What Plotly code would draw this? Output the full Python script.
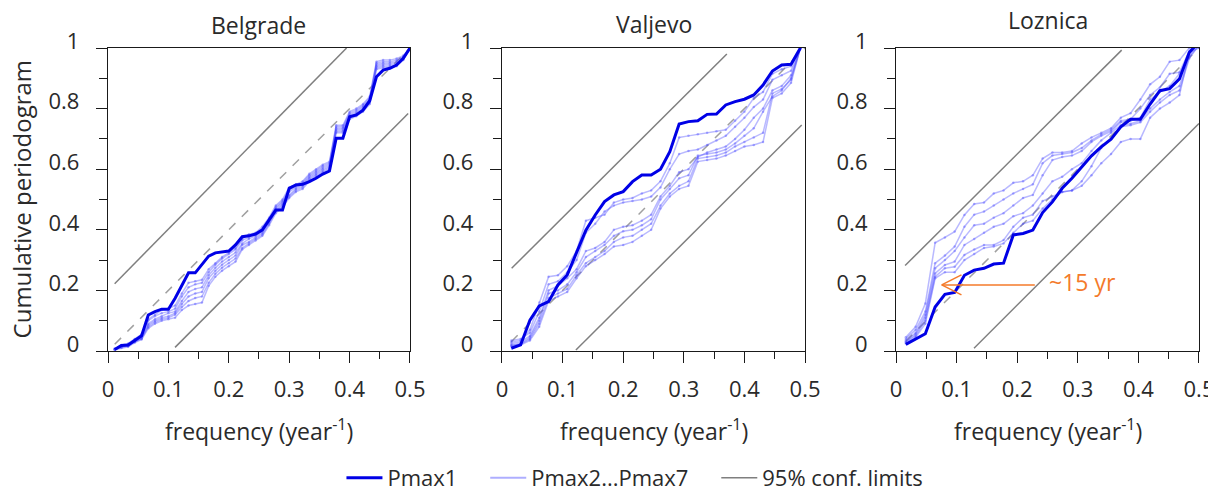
import plotly.graph_objects as go

# ---------------- data ----------------
stations = ["Belgrade", "Valjevo", "Loznica"]

belgrade_freq = [k / 90 for k in range(1, 46)]
valjevo_freq = [k / 65 for k in range(1, 33)]
loznica_freq = [k / 62 for k in range(1, 32)]

belgrade_pmax1 = [0.005, 0.018, 0.02, 0.036, 0.05, 0.119, 0.13, 0.138, 0.138, 0.174, 0.218, 0.258, 0.258, 0.284, 0.313,
                  0.324, 0.327, 0.33, 0.35, 0.377, 0.38, 0.386, 0.4, 0.432, 0.465, 0.465, 0.537, 0.548, 0.55, 0.559,
                  0.57, 0.584, 0.594, 0.702, 0.702, 0.773, 0.779, 0.795, 0.826, 0.905, 0.927, 0.933, 0.944, 0.966, 1.0]
belgrade_others = [
    [0.008, 0.02, 0.025, 0.04, 0.055, 0.105, 0.12, 0.135, 0.14, 0.15, 0.19, 0.225, 0.23, 0.235, 0.27, 0.29, 0.31, 0.325,
     0.34, 0.37, 0.385, 0.39, 0.41, 0.44, 0.48, 0.5, 0.54, 0.55, 0.56, 0.585, 0.6, 0.615, 0.625, 0.745, 0.745, 0.79, 0.8,
     0.815, 0.84, 0.955, 0.96, 0.96, 0.965, 0.975, 1.0],
    [0.007, 0.018, 0.022, 0.038, 0.05, 0.1, 0.115, 0.125, 0.13, 0.14, 0.18, 0.21, 0.22, 0.225, 0.26, 0.285, 0.305, 0.32,
     0.335, 0.365, 0.375, 0.385, 0.4, 0.435, 0.475, 0.495, 0.53, 0.545, 0.555, 0.58, 0.595, 0.61, 0.62, 0.74, 0.74, 0.785,
     0.795, 0.81, 0.835, 0.95, 0.955, 0.955, 0.96, 0.97, 1.0],
    [0.006, 0.016, 0.02, 0.035, 0.045, 0.09, 0.105, 0.115, 0.125, 0.13, 0.165, 0.195, 0.205, 0.21, 0.25, 0.275, 0.295,
     0.31, 0.325, 0.355, 0.37, 0.38, 0.395, 0.43, 0.47, 0.49, 0.525, 0.54, 0.55, 0.575, 0.59, 0.605, 0.615, 0.735, 0.735,
     0.78, 0.79, 0.805, 0.83, 0.945, 0.95, 0.95, 0.955, 0.97, 1.0],
    [0.005, 0.014, 0.018, 0.032, 0.042, 0.085, 0.1, 0.11, 0.115, 0.125, 0.155, 0.18, 0.19, 0.195, 0.24, 0.265, 0.285, 0.3,
     0.315, 0.35, 0.36, 0.375, 0.39, 0.425, 0.465, 0.485, 0.515, 0.535, 0.545, 0.57, 0.585, 0.6, 0.61, 0.73, 0.73, 0.775,
     0.785, 0.8, 0.825, 0.94, 0.945, 0.945, 0.95, 0.965, 1.0],
    [0.004, 0.012, 0.016, 0.03, 0.04, 0.08, 0.095, 0.105, 0.11, 0.12, 0.145, 0.165, 0.175, 0.18, 0.225, 0.255, 0.275,
     0.29, 0.305, 0.34, 0.355, 0.37, 0.385, 0.42, 0.46, 0.48, 0.51, 0.53, 0.54, 0.565, 0.58, 0.595, 0.605, 0.725, 0.725,
     0.77, 0.78, 0.795, 0.82, 0.935, 0.94, 0.94, 0.945, 0.962, 1.0],
    [0.004, 0.01, 0.014, 0.028, 0.038, 0.075, 0.09, 0.1, 0.105, 0.11, 0.135, 0.15, 0.155, 0.16, 0.215, 0.245, 0.265, 0.28,
     0.295, 0.335, 0.35, 0.365, 0.38, 0.415, 0.455, 0.475, 0.505, 0.525, 0.535, 0.56, 0.575, 0.59, 0.6, 0.72, 0.72,
     0.765, 0.775, 0.79, 0.815, 0.93, 0.935, 0.935, 0.94, 0.96, 1.0],
]

valjevo_pmax1 = [0.009, 0.02, 0.102, 0.149, 0.163, 0.218, 0.251, 0.322, 0.399, 0.449, 0.493, 0.515, 0.526, 0.559, 0.581,
                 0.581, 0.6, 0.658, 0.749, 0.757, 0.76, 0.781, 0.782, 0.812, 0.823, 0.831, 0.845, 0.878, 0.924, 0.944,
                 0.946, 1.0]
valjevo_others = [
    [0.03, 0.035, 0.07, 0.16, 0.245, 0.25, 0.28, 0.33, 0.43, 0.44, 0.45, 0.49, 0.5, 0.505, 0.52, 0.53, 0.56, 0.62, 0.705,
     0.71, 0.715, 0.72, 0.725, 0.73, 0.76, 0.79, 0.835, 0.855, 0.915, 0.93, 0.94, 1.0],
    [0.035, 0.04, 0.06, 0.13, 0.22, 0.23, 0.26, 0.3, 0.39, 0.42, 0.46, 0.48, 0.49, 0.495, 0.5, 0.51, 0.54, 0.6, 0.65,
     0.66, 0.665, 0.68, 0.695, 0.71, 0.74, 0.77, 0.805, 0.83, 0.895, 0.91, 0.925, 1.0],
    [0.025, 0.03, 0.05, 0.11, 0.2, 0.215, 0.24, 0.27, 0.33, 0.34, 0.36, 0.4, 0.41, 0.415, 0.43, 0.45, 0.51, 0.545, 0.59,
     0.6, 0.64, 0.655, 0.665, 0.675, 0.7, 0.73, 0.77, 0.8, 0.86, 0.875, 0.91, 1.0],
    [0.02, 0.025, 0.045, 0.1, 0.19, 0.2, 0.22, 0.26, 0.31, 0.33, 0.35, 0.38, 0.395, 0.4, 0.415, 0.435, 0.5, 0.535, 0.57,
     0.58, 0.645, 0.65, 0.655, 0.665, 0.685, 0.71, 0.735, 0.79, 0.84, 0.86, 0.9, 1.0],
    [0.018, 0.022, 0.04, 0.09, 0.175, 0.19, 0.205, 0.25, 0.29, 0.31, 0.33, 0.36, 0.375, 0.38, 0.4, 0.42, 0.48, 0.52,
     0.545, 0.56, 0.635, 0.64, 0.645, 0.655, 0.675, 0.69, 0.705, 0.72, 0.85, 0.865, 0.895, 1.0],
    [0.015, 0.02, 0.035, 0.08, 0.165, 0.18, 0.195, 0.24, 0.28, 0.3, 0.32, 0.345, 0.35, 0.36, 0.38, 0.4, 0.47, 0.51,
     0.535, 0.545, 0.625, 0.63, 0.635, 0.645, 0.66, 0.675, 0.68, 0.69, 0.835, 0.85, 0.885, 1.0],
]

loznica_pmax1 = [0.022, 0.04, 0.057, 0.145, 0.187, 0.193, 0.25, 0.267, 0.273, 0.287, 0.29, 0.383, 0.388, 0.399, 0.457,
                 0.492, 0.537, 0.57, 0.608, 0.644, 0.674, 0.699, 0.74, 0.765, 0.765, 0.815, 0.859, 0.866, 0.898, 0.985,
                 1.02]
loznica_others = [
    [0.045, 0.08, 0.157, 0.357, 0.375, 0.394, 0.449, 0.485, 0.49, 0.52, 0.53, 0.555, 0.56, 0.58, 0.635, 0.655, 0.655,
     0.66, 0.685, 0.705, 0.72, 0.735, 0.77, 0.785, 0.83, 0.88, 0.905, 0.955, 0.96, 1.0, 1.04],
    [0.04, 0.07, 0.13, 0.29, 0.315, 0.345, 0.41, 0.45, 0.46, 0.48, 0.5, 0.52, 0.535, 0.55, 0.62, 0.645, 0.65, 0.655,
     0.67, 0.695, 0.715, 0.73, 0.76, 0.765, 0.8, 0.845, 0.87, 0.915, 0.92, 0.99, 1.03],
    [0.035, 0.06, 0.12, 0.273, 0.3, 0.33, 0.375, 0.415, 0.42, 0.44, 0.455, 0.48, 0.505, 0.515, 0.58, 0.63, 0.64, 0.645,
     0.66, 0.69, 0.71, 0.725, 0.755, 0.76, 0.77, 0.83, 0.855, 0.875, 0.915, 0.975, 1.02],
    [0.03, 0.055, 0.11, 0.256, 0.284, 0.295, 0.35, 0.37, 0.39, 0.41, 0.42, 0.445, 0.455, 0.48, 0.52, 0.56, 0.575, 0.6,
     0.62, 0.66, 0.695, 0.72, 0.745, 0.75, 0.76, 0.8, 0.83, 0.855, 0.875, 0.97, 1.01],
    [0.03, 0.05, 0.1, 0.245, 0.273, 0.278, 0.317, 0.335, 0.35, 0.35, 0.366, 0.41, 0.44, 0.45, 0.495, 0.51, 0.525, 0.53,
     0.56, 0.61, 0.67, 0.7, 0.74, 0.745, 0.755, 0.79, 0.82, 0.845, 0.86, 0.965, 1.01],
    [0.025, 0.045, 0.09, 0.24, 0.26, 0.26, 0.3, 0.32, 0.34, 0.345, 0.355, 0.39, 0.42, 0.43, 0.47, 0.5, 0.525, 0.53,
     0.545, 0.58, 0.62, 0.65, 0.69, 0.7, 0.7, 0.77, 0.8, 0.82, 0.845, 0.985, 1.0],
]

# 95% confidence limits (end points of straight lines)
conf_upper_x = [[0.011, 0.395], [0.016, 0.371], [0.015, 0.3724]]
conf_upper_y = [[0.222, 1.0], [0.273, 0.98], [0.282, 0.993]]
conf_lower_x = [[0.111, 0.497], [0.122, 0.4945], [0.1287, 0.5]]
conf_lower_y = [[0.012, 0.784], [0.003, 0.746], [0.009, 0.751]]

# annotation (~15 yr) in Loznica panel
arrow_tail = (0.229, 0.218)
arrow_tip = (0.0754, 0.218)
arrow_arm_x = 0.108
arrow_arm_dy = 0.033
label_15yr = "~15 yr"

x_tickvals = [0, 0.1, 0.2, 0.3, 0.4, 0.5]
x_ticktext = ["0", "0.1", "0.2", "0.3", "0.4", "0.5"]
x_minor = [0.05, 0.15, 0.25, 0.35, 0.45]
y_tickvals = [0, 0.2, 0.4, 0.6, 0.8, 1.0]
y_ticktext = ["0", "0.2", "0.4", "0.6", "0.8", "1"]
y_minor = [0.1, 0.3, 0.5, 0.7, 0.9]

freqs = [belgrade_freq, valjevo_freq, loznica_freq]
pmax1 = [belgrade_pmax1, valjevo_pmax1, loznica_pmax1]
others = [belgrade_others, valjevo_others, loznica_others]

# ---------------- styling ----------------
FONT = "Open Sans"
TXT = "#2a2a2a"
AX = "#1a1a1a"
BLUE = "#0000E6"
LIGHT = "rgba(70,70,255,0.38)"
GRAY = "#7f7f7f"
DASH = "#a0a0a0"
ORANGE = "#F47A2A"
NB = "\u00a0"

fig = go.Figure()

for i in range(3):
    xa = "x" if i == 0 else f"x{i+1}"
    ya = "y" if i == 0 else f"y{i+1}"
    f = freqs[i]
    # expected (white noise) line
    fig.add_trace(go.Scatter(x=[f[0], 0.5], y=[2 * f[0], 1.0], mode="lines", xaxis=xa, yaxis=ya,
                             line=dict(color=DASH, width=1.5, dash="dash"), showlegend=False, hoverinfo="skip"))
    # confidence limits
    fig.add_trace(go.Scatter(x=conf_upper_x[i], y=conf_upper_y[i], mode="lines", xaxis=xa, yaxis=ya,
                             line=dict(color=GRAY, width=1.5), name="95% conf. limits",
                             legendgroup="conf", showlegend=(i == 0), legendrank=3))
    fig.add_trace(go.Scatter(x=conf_lower_x[i], y=conf_lower_y[i], mode="lines", xaxis=xa, yaxis=ya,
                             line=dict(color=GRAY, width=1.5), legendgroup="conf", showlegend=False))
    # Pmax2..Pmax7
    for j, s in enumerate(others[i]):
        fig.add_trace(go.Scatter(x=f, y=s, mode="lines+markers", xaxis=xa, yaxis=ya,
                                 line=dict(color=LIGHT, width=1.5), marker=dict(size=2.5, color=LIGHT),
                                 legendgroup="others", showlegend=False))
    # Pmax1
    fig.add_trace(go.Scatter(x=f, y=pmax1[i], mode="lines", xaxis=xa, yaxis=ya,
                             line=dict(color=BLUE, width=3), legendgroup="p1", showlegend=False))

# legend-only entries
fig.add_trace(go.Scatter(x=[None], y=[None], mode="lines", line=dict(color=BLUE, width=3),
                         name="Pmax1" + NB * 4, legendrank=1))
fig.add_trace(go.Scatter(x=[None], y=[None], mode="lines", line=dict(color="rgba(120,120,255,0.6)", width=2),
                         name="Pmax2...Pmax7" + NB * 4, legendrank=2))

# the page adds an 8 px body margin, so the figure is drawn 8 px smaller and offset
W, H = 1208, 482
domains = [[0.0, 0.2768], [0.3611, 0.6389], [0.7223, 1.0]]
layout = dict(
    width=W, height=H,
    margin=dict(l=100, r=17, t=40, b=139, autoexpand=False),
    paper_bgcolor="white", plot_bgcolor="white",
    font=dict(family=FONT, size=22, color=TXT),
    legend=dict(orientation="h", x=0.483, xanchor="center", y=12 / H, yanchor="middle", yref="container",
                font=dict(size=22, color=TXT), itemwidth=36, traceorder="normal"),
    shapes=[], annotations=[],
)
for i in range(3):
    sx = "" if i == 0 else str(i + 1)
    layout[f"xaxis{sx}"] = dict(
        domain=domains[i], range=[0, 0.5], anchor=f"y{sx}", tickvals=x_tickvals, ticktext=x_ticktext,
        ticks="outside", ticklen=11, tickwidth=1.3, tickcolor=AX, showline=True, linecolor=AX, linewidth=1.3,
        mirror=True, showgrid=False, zeroline=False, tickfont=dict(size=22, color=TXT), ticklabelstandoff=7,
        automargin=False, ticklabeloverflow="allow",
        minor=dict(tickvals=x_minor, ticks="outside", ticklen=7, tickwidth=1.3, tickcolor=AX, showgrid=False),
    )
    layout[f"yaxis{sx}"] = dict(
        domain=[0, 1], range=[0, 1], anchor=f"x{sx}", tickvals=y_tickvals, ticktext=y_ticktext,
        ticks="outside", ticklen=11, tickwidth=1.3, tickcolor=AX, showline=True, linecolor=AX, linewidth=1.3,
        mirror=True, showgrid=False, zeroline=False, tickfont=dict(size=22, color=TXT), ticklabelstandoff=12,
        ticklabelshift=-7, automargin=False, ticklabeloverflow="allow",
        minor=dict(tickvals=y_minor, ticks="outside", ticklen=8, tickwidth=1.3, tickcolor=AX, showgrid=False),
    )
    xd = f"x{sx} domain"
    yd = f"y{sx} domain"
    title_y = [1.076, 1.079, 1.092][i]
    layout["annotations"].append(dict(text=stations[i], xref=xd, yref=yd, x=0.5, y=title_y, showarrow=False,
                                      xanchor="center", yanchor="middle", font=dict(size=23, color=TXT)))
    layout["annotations"].append(dict(text="frequency (year<sup>-1</sup>)", xref=xd, yref=yd, x=0.5, y=-0.262,
                                      showarrow=False, xanchor="center", yanchor="middle",
                                      font=dict(size=23, color=TXT)))

layout["annotations"].append(dict(text="Cumulative periodogram", xref="x domain", yref="y domain", x=-0.285, y=0.5,
                                  textangle=-90, showarrow=False, xanchor="center", yanchor="middle",
                                  font=dict(size=24, color=TXT)))

# ~15 yr arrow in Loznica panel
for (x0, y0, x1, y1) in [(arrow_tail[0], arrow_tail[1], arrow_tip[0], arrow_tip[1]),
                         (arrow_tip[0], arrow_tip[1], arrow_arm_x, arrow_tip[1] + arrow_arm_dy),
                         (arrow_tip[0], arrow_tip[1], arrow_arm_x, arrow_tip[1] - arrow_arm_dy)]:
    layout["shapes"].append(dict(type="line", xref="x3", yref="y3", x0=x0, y0=y0, x1=x1, y1=y1,
                                 line=dict(color=ORANGE, width=1.5)))
layout["annotations"].append(dict(text=label_15yr, xref="x3", yref="y3", x=0.249, y=0.229, showarrow=False,
                                  xanchor="left", yanchor="middle", font=dict(size=23, color=ORANGE)))

fig.update_layout(**layout)
fig.write_html("out.html")
